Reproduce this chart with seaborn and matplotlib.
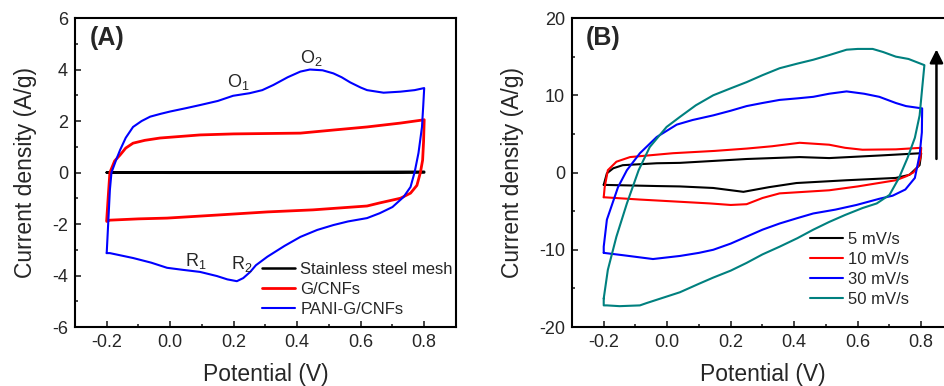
import matplotlib
matplotlib.use("Agg")
import matplotlib.pyplot as plt
import seaborn as sns

# ---------------- Panel A data (potential V, current density A/g) ----------------
a_steel_v = [-0.2, 0.0, 0.2, 0.4, 0.6, 0.8, 0.8, 0.6, 0.4, 0.2, 0.0, -0.2]
a_steel_j = [0.0, 0.01, 0.01, 0.01, 0.02, 0.03, 0.0, -0.01, -0.01, -0.01, -0.01, 0.0]

a_gcnf_v = [-0.2, -0.195, -0.19, -0.175, -0.158, -0.14, -0.117, -0.08, -0.032, 0.094, 0.2, 0.41,
            0.514, 0.62, 0.725, 0.795, 0.8,
            0.798, 0.795, 0.788, 0.777, 0.757, 0.725, 0.66, 0.62, 0.45, 0.306, 0.15, -0.01,
            -0.1, -0.19, -0.2]
a_gcnf_j = [-1.85, -0.9, 0.0, 0.45, 0.68, 0.95, 1.14, 1.25, 1.34, 1.46, 1.5, 1.53,
            1.65, 1.77, 1.92, 2.04, 2.05,
            1.2, 0.48, 0.0, -0.5, -0.8, -1.0, -1.18, -1.3, -1.45, -1.53, -1.65, -1.77,
            -1.8, -1.85, -1.9]

a_pani_v = [-0.2, -0.19, -0.185, -0.17, -0.158, -0.14, -0.117, -0.09, -0.063, -0.03, 0.0, 0.05,
            0.094, 0.15, 0.198, 0.25, 0.29, 0.325, 0.37, 0.41, 0.44, 0.48, 0.514, 0.54, 0.567,
            0.6, 0.62, 0.672, 0.725, 0.77, 0.8,
            0.797, 0.793, 0.782, 0.77, 0.757, 0.735, 0.7, 0.66, 0.62, 0.56, 0.514, 0.463,
            0.41, 0.36, 0.306, 0.27, 0.252, 0.23, 0.21, 0.18, 0.147, 0.094, 0.04, -0.01,
            -0.06, -0.117, -0.19, -0.2]
a_pani_j = [-3.13, -0.68, 0.0, 0.5, 0.87, 1.35, 1.77, 2.0, 2.17, 2.28, 2.37, 2.5,
            2.62, 2.78, 2.98, 3.08, 3.2, 3.4, 3.7, 3.92, 4.0, 3.97, 3.85, 3.7, 3.5,
            3.3, 3.2, 3.1, 3.14, 3.2, 3.28,
            2.6, 1.77, 0.76, 0.02, -0.56, -0.95, -1.34, -1.58, -1.77, -1.9, -2.04, -2.23,
            -2.5, -2.85, -3.27, -3.6, -3.86, -4.1, -4.22, -4.15, -4.02, -3.86, -3.78, -3.7,
            -3.5, -3.32, -3.13, -3.13]

a_labels = ["Stainless steel mesh", "G/CNFs", "PANI-G/CNFs"]
a_colors = ["#000000", "#FF0000", "#0000FF"]

# ---------------- Panel B data ----------------
b5_v = [-0.2, -0.19, -0.17, -0.14, -0.033, 0.04, 0.25, 0.417, 0.51, 0.668, 0.8,
        0.795, 0.763, 0.72, 0.565, 0.407, 0.32, 0.24, 0.145, 0.04, -0.033, -0.2]
b5_j = [-1.6, -0.1, 0.55, 0.95, 1.2, 1.25, 1.75, 2.0, 1.87, 2.2, 2.5,
        0.96, -0.3, -0.7, -1.0, -1.36, -1.9, -2.5, -2.0, -1.8, -1.75, -1.6]

b10_v = [-0.2, -0.197, -0.187, -0.16, -0.117, 0.018, 0.15, 0.25, 0.33, 0.417, 0.51, 0.56, 0.615,
         0.72, 0.8,
         0.798, 0.79, 0.775, 0.752, 0.72, 0.6, 0.51, 0.354, 0.3, 0.25, 0.2, 0.134, -0.086, -0.2]
b10_j = [-3.2, -1.9, 0.3, 1.4, 2.0, 2.5, 2.8, 3.1, 3.4, 3.85, 3.6, 3.2, 2.95,
         3.0, 3.2,
         2.0, 0.8, 0.0, -0.5, -1.0, -1.8, -2.3, -2.7, -3.3, -4.1, -4.2, -4.0, -3.5, -3.2]

b30_v = [-0.2, -0.2, -0.19, -0.155, -0.127, -0.086, -0.033, 0.03, 0.08, 0.145, 0.2, 0.25, 0.3,
         0.354, 0.41, 0.46, 0.51, 0.565, 0.62, 0.668, 0.72, 0.752, 0.803,
         0.802, 0.795, 0.78, 0.75, 0.71, 0.668, 0.596, 0.53, 0.46, 0.41, 0.354, 0.3, 0.25,
         0.2, 0.145, 0.1, 0.04, -0.045, -0.14, -0.2]
b30_j = [-10.4, -9.6, -6.1, -1.9, 0.3, 2.5, 4.6, 6.2, 6.8, 7.4, 8.0, 8.6, 9.0,
         9.4, 9.6, 9.8, 10.2, 10.5, 10.2, 9.8, 9.0, 8.6, 8.3,
         5.2, 2.3, -0.7, -2.2, -3.0, -3.4, -4.2, -4.8, -5.3, -5.9, -6.6, -7.4, -8.3,
         -9.2, -10.0, -10.4, -10.8, -11.2, -10.7, -10.4]

b50_v = [-0.2, -0.187, -0.16, -0.127, -0.09, -0.055, -0.002, 0.04, 0.09, 0.145, 0.2, 0.25, 0.3,
         0.354, 0.41, 0.46, 0.51, 0.565, 0.6, 0.647, 0.68, 0.72, 0.76, 0.81,
         0.803, 0.795, 0.78, 0.757, 0.73, 0.7, 0.66, 0.615, 0.56, 0.51, 0.46, 0.41, 0.354,
         0.3, 0.25, 0.2, 0.145, 0.1, 0.04, -0.02, -0.065, -0.086, -0.15, -0.19, -0.2, -0.2]
b50_j = [-16.3, -12.6, -8.3, -4.0, 0.3, 3.3, 5.9, 7.2, 8.7, 10.0, 10.9, 11.7, 12.6,
         13.5, 14.1, 14.6, 15.2, 15.9, 16.0, 16.0, 15.6, 15.0, 14.7, 13.9,
         10.9, 7.4, 4.5, 1.9, -0.7, -2.9, -4.0, -4.6, -5.5, -6.4, -7.4, -8.5, -9.6,
         -10.6, -11.7, -12.7, -13.6, -14.4, -15.5, -16.3, -16.9, -17.2, -17.3, -17.2, -17.2, -16.3]

b_labels = ["5 mV/s", "10 mV/s", "30 mV/s", "50 mV/s"]
b_colors = ["#000000", "#FF0000", "#0000FF", "#00807F"]

# ---------------- Figure ----------------
sns.set_theme(style="ticks")
plt.rcParams["font.family"] = ["Liberation Sans", "DejaVu Sans"]
plt.rcParams["mathtext.fontset"] = "custom"
plt.rcParams["mathtext.rm"] = "Liberation Sans"
plt.rcParams["axes.linewidth"] = 1.5

fig = plt.figure(figsize=(9.44, 3.86), dpi=100)
axA = fig.add_axes([0.0794, 0.1528, 0.4036, 0.8005])
axB = fig.add_axes([0.6059, 0.1528, 0.4036, 0.8005])

for v, j, lab, col, lw in zip([a_steel_v, a_gcnf_v, a_pani_v], [a_steel_j, a_gcnf_j, a_pani_j],
                              a_labels, a_colors, [1.8, 2.0, 1.5]):
    sns.lineplot(x=v, y=j, sort=False, estimator=None, color=col, lw=lw, label=lab, ax=axA)

for v, j, lab, col in zip([b5_v, b10_v, b30_v, b50_v], [b5_j, b10_j, b30_j, b50_j], b_labels, b_colors):
    sns.lineplot(x=v, y=j, sort=False, estimator=None, color=col, lw=1.5, label=lab, ax=axB)

for ax in (axA, axB):
    ax.set_xlim(-0.3, 0.9)
    ax.set_xticks([-0.2, 0.0, 0.2, 0.4, 0.6, 0.8])
    ax.set_xticklabels(["-0.2", "0.0", "0.2", "0.4", "0.6", "0.8"])
    ax.set_xticks([-0.1, 0.1, 0.3, 0.5, 0.7], minor=True)
    ax.tick_params(which="both", direction="in", labelsize=13, width=1.2, pad=5)
    ax.tick_params(which="major", length=4)
    ax.tick_params(which="minor", length=2.5)
    ax.set_xlabel("Potential (V)", fontsize=16.5, labelpad=9)
    ax.set_ylabel("Current density (A/g)", fontsize=16.5, labelpad=11)
    for s in ax.spines.values():
        s.set_color("black")
        s.set_linewidth(1.5)

axA.set_ylim(-6, 6)
axA.set_yticks([-6, -4, -2, 0, 2, 4, 6])
axA.set_yticklabels(["-6", "-4", "-2", "0", "2", "4", "6"])
axA.set_yticks([-5, -3, -1, 1, 3, 5], minor=True)

axB.set_ylim(-20, 20)
axB.set_yticks([-20, -10, 0, 10, 20])
axB.set_yticklabels(["-20", "-10", "0", "10", "20"])
axB.set_yticks([-15, -5, 5, 15], minor=True)

axA.text(0.04, 0.935, "(A)", transform=axA.transAxes, fontsize=18, fontweight="bold", va="center")
axB.text(0.037, 0.935, "(B)", transform=axB.transAxes, fontsize=18, fontweight="bold", va="center")

axA.text(0.215, 3.5, r"$\mathregular{O_1}$", fontsize=13, ha="center", va="center")
axA.text(0.445, 4.45, r"$\mathregular{O_2}$", fontsize=13, ha="center", va="center")
axA.text(0.08, -3.45, r"$\mathregular{R_1}$", fontsize=13, ha="center", va="center")
axA.text(0.225, -3.55, r"$\mathregular{R_2}$", fontsize=13, ha="center", va="center")

axB.annotate("", xy=(0.848, 16.3), xytext=(0.848, 1.4),
             arrowprops=dict(arrowstyle="-|>", color="black", lw=1.8, mutation_scale=20))

axA.legend(loc="upper left", bbox_to_anchor=(0.491, 0.21), frameon=False, fontsize=12,
           borderpad=0, borderaxespad=0, handlelength=2.0, handletextpad=0.3, labelspacing=0.3)
axB.legend(loc="upper left", bbox_to_anchor=(0.625, 0.307), frameon=False, fontsize=12,
           borderpad=0, borderaxespad=0, handlelength=2.0, handletextpad=0.3, labelspacing=0.3)

fig.savefig("out.png", dpi=100)
